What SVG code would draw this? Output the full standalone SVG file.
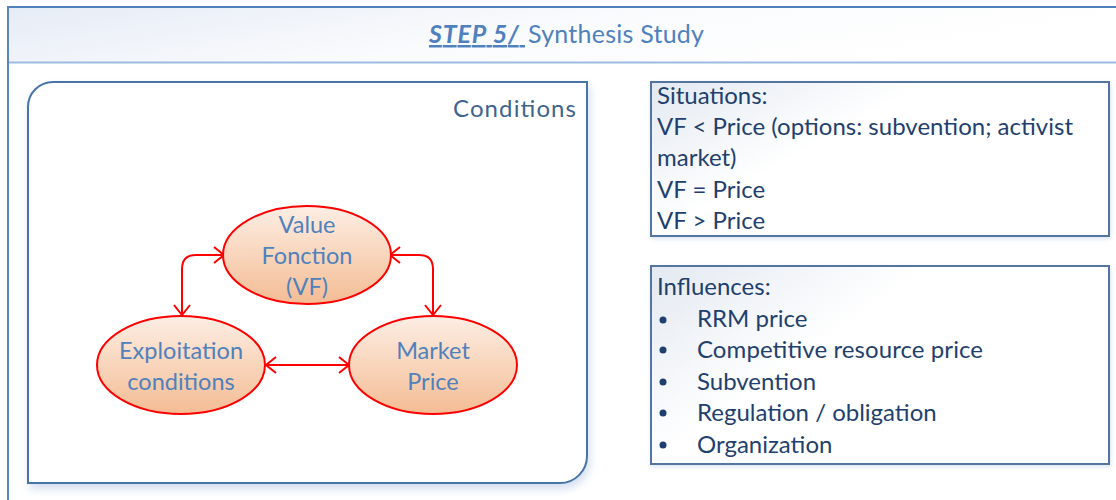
<svg xmlns="http://www.w3.org/2000/svg" width="1116" height="500" viewBox="0 0 1116 500">
<style>
.t{font-family:Lato,"Open Sans","Liberation Sans",sans-serif}
.node{fill:url(#eg);stroke:#FF0000;stroke-width:2}
.nt{font-size:23.5px;fill:#4F81BD;text-anchor:middle}
.bt{font-size:24px;fill:#1F3F6E}
.con{fill:none;stroke:#FF0000;stroke-width:2}
.box{fill:url(#bg);stroke:#52759F;stroke-width:2}
</style>
<defs>
<linearGradient id="hg" x1="0" y1="0" x2="1" y2="0.3">
<stop offset="0" stop-color="#E6ECF6"/>
<stop offset="0.55" stop-color="#FAFBFD"/>
<stop offset="1" stop-color="#FFFFFF"/>
</linearGradient>
<linearGradient id="eg" x1="0" y1="0" x2="0" y2="1">
<stop offset="0" stop-color="#FDEEE4"/>
<stop offset="1" stop-color="#F4BC94"/>
</linearGradient>
<linearGradient id="bg" x1="0" y1="0" x2="1" y2="0.6">
<stop offset="0" stop-color="#E3E9F1"/>
<stop offset="0.45" stop-color="#FFFFFF"/>
<stop offset="1" stop-color="#FFFFFF"/>
</linearGradient>
<filter id="sh" x="-5%" y="-5%" width="112%" height="115%">
<feDropShadow dx="2" dy="5" stdDeviation="4" flood-color="#7FA3D0" flood-opacity="0.35"/>
</filter>
<filter id="sh2" x="-5%" y="-5%" width="110%" height="120%">
<feDropShadow dx="1" dy="2" stdDeviation="2" flood-color="#8FAAD0" flood-opacity="0.3"/>
</filter>
<marker id="ah" viewBox="0 0 12 18" refX="11" refY="9" markerWidth="12" markerHeight="18" markerUnits="userSpaceOnUse" orient="auto-start-reverse">
<path d="M1 1 L11 9 L1 17" fill="none" stroke="#FF0000" stroke-width="2"/>
</marker>
</defs>

<g id="frame">
<rect x="8" y="7" width="1110" height="56" fill="url(#hg)"/>
<line x1="8" y1="62.5" x2="1116" y2="62.5" stroke="#9DBBE0" stroke-width="2"/>
<line x1="8" y1="7" x2="1116" y2="7" stroke="#4F81BD" stroke-width="2"/>
<line x1="8" y1="6" x2="8" y2="500" stroke="#5A87BE" stroke-width="2"/>
<text class="t" x="429" y="43" font-size="25" fill="#4F81BD"><tspan font-weight="bold" font-style="italic" text-decoration="underline" textLength="96">STEP 5/ </tspan><tspan x="528" textLength="176">Synthesis Study</tspan></text>
</g>

<g id="conditions">
<path d="M53 82 H587 V456 A27 27 0 0 1 560 483 H28 V107 A25 25 0 0 1 53 82 Z" fill="#FFFFFF" stroke="#4A74A6" stroke-width="2" filter="url(#sh)"/>
<text class="t" x="576" y="117" font-size="24" fill="#3E648F" text-anchor="end" textLength="123">Conditions</text>
</g>

<g id="connectors">
<path class="con" d="M224 255 H196 Q182 255 182 269 V315" marker-start="url(#ah)" marker-end="url(#ah)"/>
<path class="con" d="M390 255 H419 Q433 255 433 269 V315" marker-start="url(#ah)" marker-end="url(#ah)"/>
<path class="con" d="M266 365 H349" marker-start="url(#ah)" marker-end="url(#ah)"/>
</g>

<g id="node-vf">
<ellipse class="node" cx="307" cy="255" rx="84" ry="49"/>
<text class="t nt" x="307" y="233">Value</text>
<text class="t nt" x="307" y="264">Fonction</text>
<text class="t nt" x="307" y="295">(VF)</text>
</g>
<g id="node-exploitation">
<ellipse class="node" cx="181" cy="365" rx="84" ry="49"/>
<text class="t nt" x="181" y="359" textLength="124">Exploitation</text>
<text class="t nt" x="181" y="390">conditions</text>
</g>
<g id="node-market">
<ellipse class="node" cx="433" cy="365" rx="84" ry="49"/>
<text class="t nt" x="433" y="359">Market</text>
<text class="t nt" x="433" y="390">Price</text>
</g>

<g id="situations">
<rect class="box" x="651" y="82" width="458" height="154" filter="url(#sh2)"/>
<text class="t bt" x="657" y="104">Situations:</text>
<text class="t bt" x="657" y="135" textLength="416">VF &lt; Price (options: subvention; activist</text>
<text class="t bt" x="657" y="166">market)</text>
<text class="t bt" x="657" y="198">VF = Price</text>
<text class="t bt" x="657" y="229">VF &gt; Price</text>
</g>

<g id="influences">
<rect class="box" x="651" y="266" width="458" height="198" filter="url(#sh2)"/>
<text class="t bt" x="657" y="295">Influences:</text>
<g fill="#1F3F6E">
<circle cx="663" cy="320" r="3.5"/>
<circle cx="663" cy="350" r="3.5"/>
<circle cx="663" cy="382" r="3.5"/>
<circle cx="663" cy="413" r="3.5"/>
<circle cx="663" cy="445" r="3.5"/>
</g>
<text class="t bt" x="697" y="327">RRM price</text>
<text class="t bt" x="697" y="358" textLength="286">Competitive resource price</text>
<text class="t bt" x="697" y="390">Subvention</text>
<text class="t bt" x="697" y="421">Regulation / obligation</text>
<text class="t bt" x="697" y="453">Organization</text>
</g>
</svg>
